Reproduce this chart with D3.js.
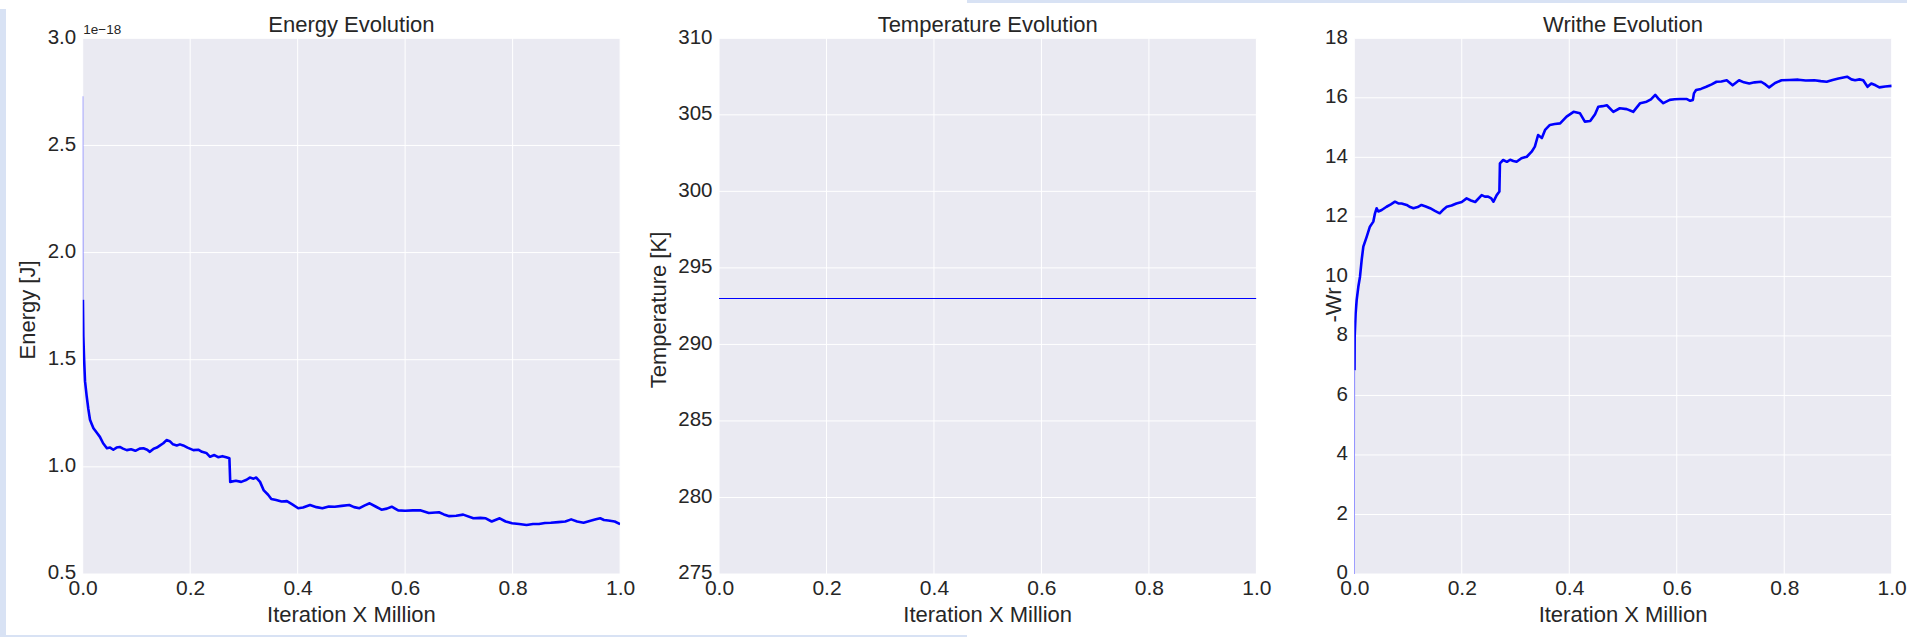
<!DOCTYPE html>
<html><head><meta charset="utf-8">
<script src="https://cdn.jsdelivr.net/npm/d3@7"></script>
<style>
body{margin:0;background:#fff}
svg{display:block}
text{font-family:"Liberation Sans",Arial,sans-serif;fill:#262626}
</style></head><body>
<svg id="c" width="1907" height="637"></svg>
<script>
// ---------- data ----------
const xTicks = [0, 0.2, 0.4, 0.6, 0.8, 1.0];
const energyTicks = [0.5, 1.0, 1.5, 2.0, 2.5, 3.0];
const tempTicks = [275, 280, 285, 290, 295, 300, 305, 310];
const writheTicks = [0, 2, 4, 6, 8, 10, 12, 14, 16, 18];
const titles = ["Energy Evolution", "Temperature Evolution", "Writhe Evolution"];
const yLabels = ["Energy [J]", "Temperature [K]", "-Wr"];
const xLabel = "Iteration X Million";

// energy (units of 1e-18 J) vs iteration (millions)
const energy = [
[0,2.73],[0.0002,2.2],[0.0004,1.78],[0.0012,1.61],[0.0025,1.51],[0.0043,1.40],[0.0074,1.33],
[0.0105,1.27],[0.0136,1.22],[0.0167,1.20],[0.020,1.18],[0.026,1.16],[0.032,1.14],[0.038,1.11],
[0.045,1.087],[0.051,1.09],[0.057,1.08],[0.063,1.09],[0.069,1.093],[0.075,1.085],[0.082,1.078],
[0.09,1.082],[0.098,1.075],[0.106,1.085],[0.113,1.087],[0.12,1.08],[0.125,1.07],[0.132,1.085],
[0.138,1.09],[0.144,1.10],[0.15,1.11],[0.156,1.125],[0.162,1.12],[0.168,1.105],[0.175,1.10],
[0.181,1.105],[0.187,1.10],[0.195,1.09],[0.206,1.078],[0.215,1.08],[0.222,1.07],[0.23,1.065],
[0.237,1.047],[0.245,1.055],[0.252,1.045],[0.26,1.05],[0.267,1.045],[0.273,1.04],[0.2745,0.93],
[0.285,0.935],[0.295,0.93],[0.305,0.94],[0.311,0.95],[0.318,0.945],[0.323,0.95],[0.33,0.93],
[0.337,0.89],[0.345,0.87],[0.351,0.85],[0.36,0.845],[0.37,0.838],[0.38,0.84],[0.39,0.825],
[0.401,0.807],[0.41,0.81],[0.423,0.822],[0.435,0.812],[0.446,0.807],[0.458,0.815],[0.469,0.814],
[0.482,0.818],[0.496,0.822],[0.505,0.812],[0.515,0.807],[0.525,0.82],[0.534,0.83],[0.545,0.815],
[0.556,0.80],[0.566,0.805],[0.575,0.814],[0.587,0.797],[0.6,0.795],[0.614,0.797],[0.628,0.797],
[0.644,0.785],[0.663,0.788],[0.672,0.778],[0.682,0.77],[0.695,0.772],[0.708,0.777],[0.727,0.76],
[0.74,0.762],[0.75,0.76],[0.761,0.745],[0.776,0.76],[0.787,0.745],[0.799,0.737],[0.812,0.733],
[0.826,0.729],[0.838,0.733],[0.849,0.733],[0.86,0.738],[0.871,0.739],[0.885,0.742],[0.898,0.745],
[0.909,0.755],[0.92,0.745],[0.932,0.739],[0.945,0.748],[0.955,0.755],[0.963,0.76],[0.97,0.752],
[0.978,0.75],[0.99,0.745],[1.0,0.733]
];

const temperature = [[0,293],[1,293]];

const writhe = [
[0,0],[0.0002,3],[0.0004,6.85],[0.0007,7.97],[0.0025,8.76],[0.0044,9.2],[0.0075,9.65],[0.0106,9.99],
[0.0137,10.55],[0.0168,11.0],[0.023,11.33],[0.029,11.67],[0.0354,11.84],[0.0385,12.12],[0.0416,12.29],
[0.0447,12.18],[0.051,12.23],[0.060,12.34],[0.068,12.42],[0.0757,12.51],[0.082,12.45],[0.088,12.45],
[0.0974,12.40],[0.104,12.33],[0.110,12.29],[0.118,12.33],[0.125,12.40],[0.133,12.35],[0.141,12.29],
[0.150,12.2],[0.159,12.12],[0.166,12.25],[0.172,12.34],[0.181,12.38],[0.190,12.45],[0.2,12.5],
[0.209,12.62],[0.217,12.55],[0.225,12.5],[0.237,12.73],[0.243,12.68],[0.249,12.68],[0.255,12.62],
[0.259,12.51],[0.265,12.73],[0.270,12.85],[0.271,13.8],[0.277,13.91],[0.284,13.85],[0.290,13.92],
[0.296,13.88],[0.302,13.85],[0.311,13.97],[0.321,14.02],[0.330,14.19],[0.336,14.36],[0.342,14.75],
[0.349,14.65],[0.355,14.92],[0.364,15.09],[0.373,15.12],[0.383,15.14],[0.395,15.37],[0.408,15.53],
[0.420,15.48],[0.429,15.2],[0.439,15.22],[0.448,15.45],[0.454,15.70],[0.462,15.72],[0.470,15.75],
[0.482,15.53],[0.494,15.65],[0.507,15.62],[0.519,15.53],[0.532,15.82],[0.544,15.87],[0.552,15.95],
[0.560,16.1],[0.567,15.95],[0.575,15.82],[0.587,15.93],[0.596,15.95],[0.606,15.96],[0.619,15.96],
[0.625,15.9],[0.630,15.93],[0.632,16.15],[0.636,16.26],[0.645,16.3],[0.655,16.37],[0.665,16.45],
[0.674,16.54],[0.683,16.55],[0.693,16.59],[0.704,16.42],[0.716,16.59],[0.725,16.52],[0.735,16.48],
[0.745,16.52],[0.757,16.54],[0.765,16.45],[0.772,16.35],[0.783,16.5],[0.795,16.59],[0.81,16.6],
[0.826,16.61],[0.84,16.58],[0.856,16.59],[0.868,16.56],[0.879,16.54],[0.89,16.6],[0.901,16.65],
[0.917,16.71],[0.925,16.62],[0.932,16.59],[0.94,16.62],[0.947,16.59],[0.955,16.37],[0.962,16.48],
[0.97,16.42],[0.977,16.35],[0.988,16.38],[1.0,16.4]
];

// ---------- layout ----------
const svg = d3.select("#c");
const lefts = [82.7, 719, 1354.3];
const pw = 537.4, topY = 38.3, bottomY = 574;
const labelX = [35, 666, 1341];
const labelCY = [310, 310, 305];

// notebook frame strips
svg.append("rect").attr("x",0).attr("y",9).attr("width",6).attr("height",628).attr("fill","#d8e2f4");
svg.append("rect").attr("x",967).attr("y",0).attr("width",940).attr("height",3).attr("fill","#d8e2f4");
svg.append("rect").attr("x",0).attr("y",635).attr("width",967).attr("height",2).attr("fill","#d8e2f4");

const cfgs = [
  {data: energy, dom:[0.5,3.0], ticks: energyTicks, fmt: d3.format(".1f"), w: 2.6, thin: 2},
  {data: temperature, dom:[275,310], ticks: tempTicks, fmt: d3.format("d"), w: 1.1, thin: 0},
  {data: writhe, dom:[0,18], ticks: writheTicks, fmt: d3.format("d"), w: 2.6, thin: 2}
];

cfgs.forEach((cfg, i) => {
  const x0 = lefts[i], x1 = x0 + pw;
  const x = d3.scaleLinear().domain([0,1]).range([x0, x1]);
  const y = d3.scaleLinear().domain(cfg.dom).range([bottomY, topY]);
  const g = svg.append("g");

  g.append("rect").attr("x", x0).attr("y", topY).attr("width", pw).attr("height", bottomY - topY).attr("fill", "#EAEAF2");

  g.selectAll(".gx").data(xTicks).join("line")
    .attr("x1", d => x(d)).attr("x2", d => x(d)).attr("y1", topY).attr("y2", bottomY)
    .attr("stroke", "#fff").attr("stroke-width", 1);
  g.selectAll(".gy").data(cfg.ticks).join("line")
    .attr("x1", x0).attr("x2", x1).attr("y1", d => y(d)).attr("y2", d => y(d))
    .attr("stroke", "#fff").attr("stroke-width", 1);

  const clipId = "clip" + i;
  svg.append("clipPath").attr("id", clipId).append("rect")
    .attr("x", x0).attr("y", topY).attr("width", pw).attr("height", bottomY - topY);

  const line = d3.line().x(d => x(d[0])).y(d => y(d[1]));
  if (cfg.thin > 0) {
    g.append("path").datum(cfg.data.slice(0, cfg.thin + 1)).attr("d", line)
      .attr("fill", "none").attr("stroke", "#6a6aff").attr("stroke-width", 1.2)
      .attr("clip-path", `url(#${clipId})`);
  }
  g.append("path").datum(cfg.data.slice(cfg.thin)).attr("d", line)
    .attr("fill", "none").attr("stroke", "#0000ff").attr("stroke-width", cfg.w)
    .attr("stroke-linejoin", "round").attr("clip-path", `url(#${clipId})`);

  const ay = g.append("g").attr("transform", `translate(${x0},0)`)
    .call(d3.axisLeft(y).tickValues(cfg.ticks).tickFormat(cfg.fmt).tickSize(0).tickPadding(6.5));
  ay.select(".domain").remove();
  ay.selectAll("text").attr("font-size", 20.5).attr("dy", "0.23em").style("fill", "#262626")
    .attr("font-family", '"Liberation Sans", Arial, sans-serif');

  const ax = g.append("g").attr("transform", `translate(0,${bottomY})`)
    .call(d3.axisBottom(x).tickValues(xTicks).tickFormat(d3.format(".1f")).tickSize(0).tickPadding(0));
  ax.select(".domain").remove();
  ax.selectAll("text").attr("font-size", 21).attr("y", 21).attr("dy", 0).style("fill", "#262626")
    .attr("font-family", '"Liberation Sans", Arial, sans-serif');

  g.append("text").attr("x", (x0 + x1) / 2).attr("y", 32).attr("text-anchor", "middle")
    .attr("font-size", 22).text(titles[i]);
  g.append("text").attr("x", (x0 + x1) / 2).attr("y", 622).attr("text-anchor", "middle")
    .attr("font-size", 22).text(xLabel);
  g.append("text").attr("transform", `translate(${labelX[i]},${labelCY[i]}) rotate(-90)`)
    .attr("text-anchor", "middle").attr("font-size", 22).text(yLabels[i]);

  if (i === 0) {
    g.append("text").attr("x", 83.3).attr("y", 34).attr("font-size", 13.5).text("1e\u221218");
  }
});
</script>
</body></html>
